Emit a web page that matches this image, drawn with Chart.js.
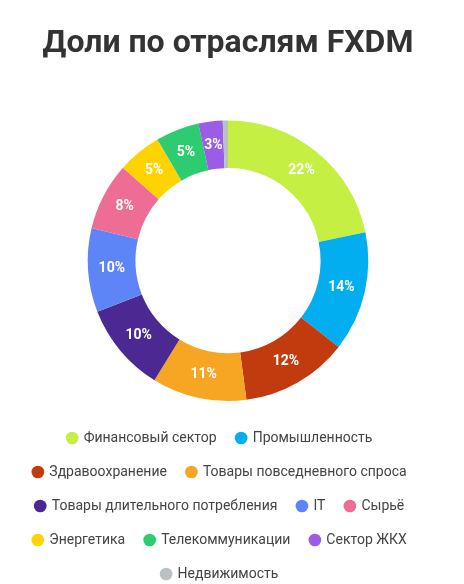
<!DOCTYPE html>
<html>
<head>
<meta charset="utf-8">
<script src="https://cdn.jsdelivr.net/npm/chart.js@4"></script>
<style>
    html, body { margin: 0; padding: 0; background: #fff; overflow: hidden; }
    .chart-box { width: 464px; height: 591px; position: relative; }
</style>
</head>
<body>
<div class="chart-box"><canvas id="sectorChart"></canvas></div>
<script>
const sectors = [
    "Финансовый сектор", "Промышленность", "Здравоохранение",
    "Товары повседневного спроса", "Товары длительного потребления", "IT",
    "Сырьё", "Энергетика", "Телекоммуникации", "Сектор ЖКХ", "Недвижимость"
];
const shares = [21.8, 13.8, 12.4, 10.9, 10.3, 9.7, 7.8, 5.1, 5.0, 2.8, 0.6];
const sectorColors = [
    "#C5EF43", "#02AEEF", "#C13B0E", "#F6A623", "#4B2892", "#5E85F8",
    "#EE6D95", "#FFD300", "#2ECC71", "#9B5DE5", "#BAC1C5"
];

// draws the % text in the middle of each slice (tiny slices get none)
const sliceLabels = {
    id: "sliceLabels",
    afterDatasetsDraw(chart) {
        const ctx = chart.ctx;
        const meta = chart.getDatasetMeta(0);
        const total = shares.reduce((a, b) => a + b, 0);
        ctx.save();
        ctx.font = "bold 14px Roboto";
        ctx.fillStyle = "#fff";
        ctx.textAlign = "center";
        ctx.textBaseline = "middle";
        meta.data.forEach((arc, i) => {
            const pct = Math.round(shares[i] / total * 100);
            if (pct < 2) return;
            const p = arc.tooltipPosition();
            ctx.fillText(pct + "%", p.x, p.y);
        });
        ctx.restore();
    }
};

// legend in the original sits a little left of the ring
const legendShift = {
    id: "legendShift",
    afterLayout(chart) {
        chart.legend.left -= 8;
        chart.legend.right -= 8;
    }
};

new Chart(document.getElementById("sectorChart"), {
    type: "doughnut",
    data: {
        labels: sectors,
        datasets: [{
            data: shares,
            backgroundColor: sectorColors,
            borderWidth: 0
        }]
    },
    options: {
        responsive: true,
        maintainAspectRatio: false,
        animation: false,
        cutout: "66%",
        layout: { padding: { right: 8 } },
        plugins: {
            title: {
                display: true,
                text: "Доли по отраслям FXDM",
                color: "#333",
                font: { family: "Roboto", size: 32, weight: "bold" },
                padding: { top: 25, bottom: 57 }
            },
            legend: {
                display: true,
                position: "bottom",
                title: {
                    display: true,
                    text: "",
                    font: { size: 1, lineHeight: 1 },
                    padding: { top: 9, bottom: 0 }
                },
                labels: {
                    usePointStyle: true,
                    pointStyle: "circle",
                    boxWidth: 9,
                    boxHeight: 9,
                    padding: 20,
                    color: "#444",
                    font: { family: "Roboto", size: 14 }
                }
            },
            tooltip: { enabled: false }
        }
    },
    plugins: [sliceLabels, legendShift]
});
</script>
</body>
</html>
